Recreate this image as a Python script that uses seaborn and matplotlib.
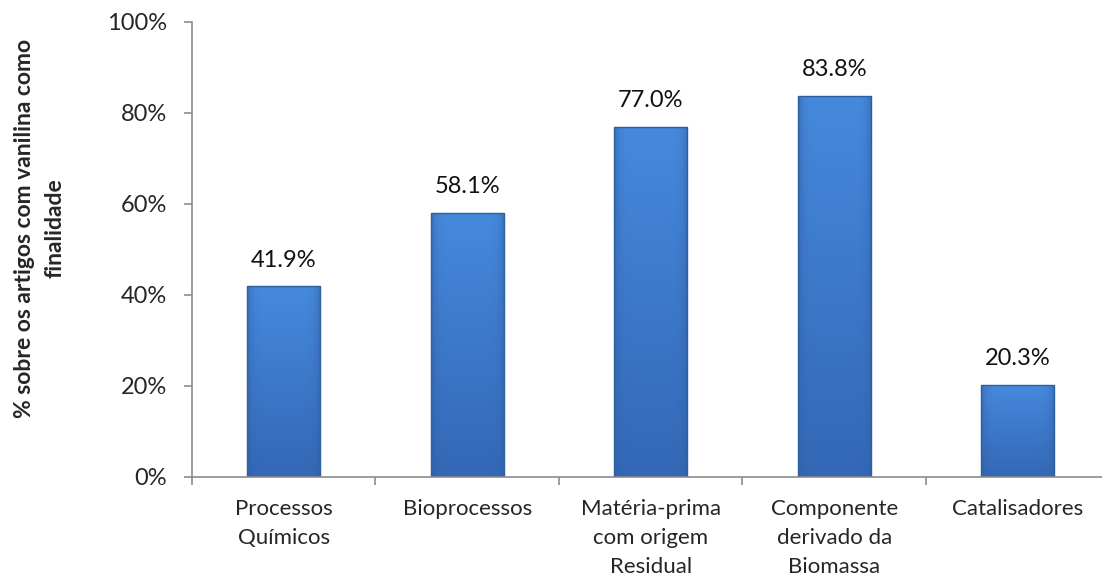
import matplotlib
matplotlib.use("Agg")
import matplotlib.pyplot as plt
import seaborn as sns
import pandas as pd
import numpy as np
from matplotlib.colors import to_rgb
from matplotlib.ticker import FixedLocator, PercentFormatter

categories = ["Processos\nQuímicos", "Bioprocessos", "Matéria-prima\ncom origem\nResidual",
              "Componente\nderivado da\nBiomassa", "Catalisadores"]
values = [41.9, 58.1, 77.0, 83.8, 20.3]
ylabel = "% sobre os artigos com vanilina como\nfinalidade"

sns.set_style("white")
plt.rcParams['font.family'] = ['Lato', 'DejaVu Sans']

df = pd.DataFrame({"cat": categories, "val": values})

fig = plt.figure(figsize=(11.02, 5.76), dpi=100)
ax = fig.add_axes([0.1742, 0.1719, 0.8326, 0.790])

sns.barplot(data=df, x="cat", y="val", ax=ax, color="#3d7dd0", width=0.4,
            edgecolor="#2d5f9e", linewidth=1.0, saturation=1)

ax.set_ylim(0, 100)
ax.set_xlim(-0.5, len(categories) - 0.5)

# shaded fill (gradient) clipped to each bar
top_c = np.array(to_rgb("#4689dc"))
bot_c = np.array(to_rgb("#3468b6"))
edge_c = np.array(to_rgb("#2f5fa6"))
ny, nx = 64, 64
t = np.linspace(0, 1, ny)[:, None, None]
vert = top_c * (1 - t) + bot_c * t
xs = np.linspace(-1, 1, nx)
side = (np.abs(xs) ** 8)[None, :, None]
grad = vert * (1 - side * 0.6) + edge_c * side * 0.6
for p in ax.patches:
    x0, y0, w, h = p.get_x(), p.get_y(), p.get_width(), p.get_height()
    im = ax.imshow(grad, extent=[x0, x0 + w, y0, y0 + h], aspect="auto",
                   origin="upper", zorder=2.5, interpolation="bilinear")
    im.set_clip_path(p)
    p.set_facecolor("none")
    p.set_zorder(3)

ax.set_ylim(0, 100)
ax.set_xlim(-0.5, len(categories) - 0.5)
ax.set_yticks([0, 20, 40, 60, 80, 100])
ax.yaxis.set_major_formatter(PercentFormatter(decimals=0))

for p, v in zip(ax.patches, values):
    ax.annotate(f"{v:.1f}%", (p.get_x() + p.get_width() / 2, p.get_height()),
                xytext=(0, 11), textcoords="offset points", ha="center", va="bottom",
                fontsize=17, color="#111111")

ax.set_xlabel("")
ax.set_ylabel(ylabel, fontsize=16.5, fontweight="bold", linespacing=1.55)
ax.yaxis.set_label_coords(-0.138, 0.547)

for s in ["top", "right"]:
    ax.spines[s].set_visible(False)
for s in ["left", "bottom"]:
    ax.spines[s].set_color("#8c8c8c")
    ax.spines[s].set_linewidth(1.2)
    ax.spines[s].set_zorder(4)

ax.tick_params(axis="y", which="major", left=True, direction="out", length=6, width=1.2,
               color="#8c8c8c", labelsize=17, pad=12)
ax.tick_params(axis="x", which="major", bottom=True, length=0, labelsize=16, pad=16)
ax.xaxis.set_minor_locator(FixedLocator([i - 0.5 for i in range(len(categories) + 1)]))
ax.tick_params(axis="x", which="minor", bottom=True, direction="out", length=6, width=1.2,
               color="#8c8c8c")
for tl in ax.get_xticklabels():
    tl.set_linespacing(1.55)

fig.savefig("out.png", dpi=100)
